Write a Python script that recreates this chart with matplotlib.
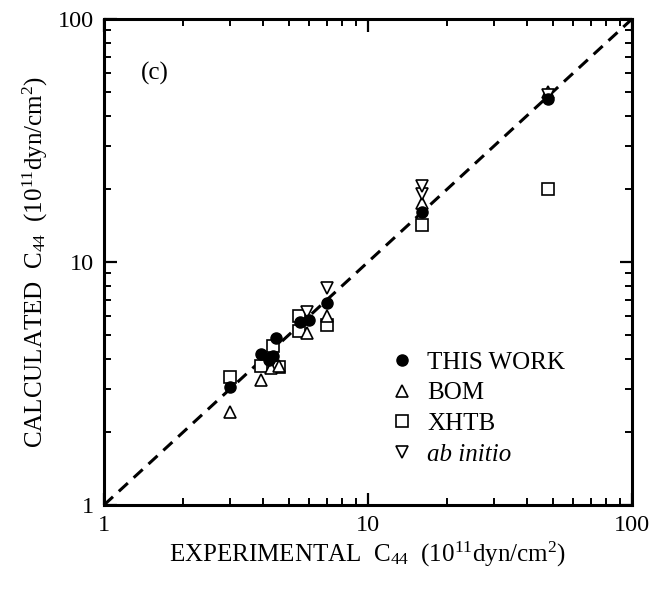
"""Calculated vs experimental C44 elastic constants (log-log)."""
import matplotlib
matplotlib.use("Agg")
import matplotlib.pyplot as plt
from matplotlib.ticker import LogLocator, NullFormatter, FixedFormatter, FixedLocator

plt.rcParams["font.family"] = ["Liberation Serif", "DejaVu Serif"]
plt.rcParams["mathtext.fontset"] = "custom"
plt.rcParams["mathtext.rm"] = "Liberation Serif"
plt.rcParams["mathtext.it"] = "Liberation Serif:italic"

# --- data (10^11 dyn/cm^2) ---
this_work_exp = [3.0, 3.95, 4.2, 4.35, 4.5, 5.55, 6.0, 7.0, 16.0, 48.0]
this_work_calc = [3.05, 4.2, 3.95, 4.1, 4.85, 5.65, 5.75, 6.8, 16.0, 47.0]

bom_exp = [3.0, 3.95, 4.3, 4.6, 5.9, 7.0, 16.0, 48.0]
bom_calc = [2.42, 3.27, 3.65, 3.75, 5.1, 6.0, 17.5, 50.0]

xhtb_exp = [3.0, 3.95, 4.35, 4.6, 5.5, 5.5, 7.0, 16.0, 48.0]
xhtb_calc = [3.35, 3.75, 4.5, 3.7, 5.2, 6.0, 5.5, 14.2, 20.0]

abinit_exp = [5.9, 7.0, 16.0, 16.0, 48.0]
abinit_calc = [6.2, 7.8, 19.0, 20.5, 48.5]

axis_range = [1, 100]
tick_vals = [1, 10, 100]
tick_labels = ["1", "10", "100"]


def main():
    fig = plt.figure(figsize=(6.52, 5.89), dpi=100)
    ax = fig.add_axes([0.1595, 0.1426, 0.8098, 0.8251])

    ax.plot(axis_range, axis_range, color="black", lw=2.2, ls=(0, (4, 2.6)), zorder=1)

    open_kw = dict(ls="none", mfc="white", mec="black", mew=1.2, zorder=2)
    ax.plot(xhtb_exp, xhtb_calc, marker="s", ms=8, label="XHTB", **open_kw)
    ax.plot(bom_exp, bom_calc, marker="^", ms=9, label="BOM", **open_kw)
    ax.plot(abinit_exp, abinit_calc, marker="v", ms=9, label="ab initio", **open_kw)
    ax.plot(this_work_exp, this_work_calc, ls="none", marker="o", ms=8,
            color="black", label="THIS WORK", zorder=3)

    ax.set_xscale("log")
    ax.set_yscale("log")
    ax.set_xlim(axis_range)
    ax.set_ylim(axis_range)

    for axis in (ax.xaxis, ax.yaxis):
        axis.set_major_locator(FixedLocator(tick_vals))
        axis.set_major_formatter(FixedFormatter(tick_labels))
        axis.set_minor_locator(LogLocator(base=10, subs=range(2, 10)))
        axis.set_minor_formatter(NullFormatter())
    ax.tick_params(which="both", direction="in", top=True, right=True, labelsize=17.5)
    ax.tick_params(which="major", length=9, width=1.6)
    ax.tick_params(which="minor", length=5, width=1.4)
    ax.tick_params(axis="x", pad=7)
    ax.tick_params(axis="y", pad=7)
    for sp in ax.spines.values():
        sp.set_linewidth(2.2)

    ax.set_xlabel(r"EXPERIMENTAL  C$_{44}$  (10$^{11}$dyn/cm$^2$)", fontsize=18, labelpad=3)
    ax.set_ylabel(r"CALCULATED  C$_{44}$  (10$^{11}$dyn/cm$^2$)", fontsize=18, labelpad=6)

    ax.text(0.07, 0.875, "(c)", transform=ax.transAxes, fontsize=18)

    handles, labels = ax.get_legend_handles_labels()
    order = [labels.index(n) for n in ["THIS WORK", "BOM", "XHTB", "ab initio"]]
    leg = ax.legend([handles[i] for i in order], [labels[i] for i in order],
                    loc="lower left", bbox_to_anchor=(0.522, 0.06), frameon=False,
                    fontsize=18, handletextpad=0.5, labelspacing=0.33,
                    handlelength=1.0, borderaxespad=0)
    leg.get_texts()[-1].set_fontstyle("italic")

    fig.savefig("out.png", dpi=100)
    plt.close(fig)


if __name__ == "__main__":
    main()
